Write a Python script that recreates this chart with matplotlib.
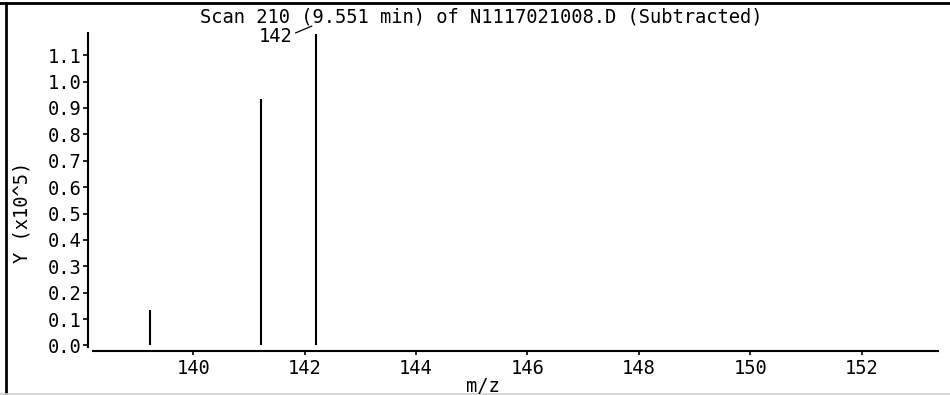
import matplotlib
matplotlib.use('Agg')
import matplotlib.pyplot as plt
from matplotlib.lines import Line2D
from matplotlib.transforms import offset_copy

# Spectrum data (m/z, intensity in units of 1e5)
mz = [139.22, 141.22, 142.2]
intensity = [0.134, 0.934, 1.18]
peak_label = '142'

x_ticks = [140, 142, 144, 146, 148, 150, 152]
y_ticks = [0.0, 0.1, 0.2, 0.3, 0.4, 0.5, 0.6, 0.7, 0.8, 0.9, 1.0, 1.1]
y_tick_labels = ['%.1f' % v for v in y_ticks]

title = 'Scan 210 (9.551 min) of N1117021008.D (Subtracted)'

W, H = 950, 395
FONT = 'DejaVu Sans Mono'
FS = 13.5


def main():
    fig = plt.figure(figsize=(W / 100, H / 100), dpi=100)
    # axes box in pixels: left 88, right 938, top 33, bottom 350.5
    ax = fig.add_axes([88 / W, 1 - 350.5 / H, (938 - 88) / W, (350.5 - 33) / H])
    ax.patch.set_alpha(0)

    ax.vlines(mz, 0, intensity, color='black', lw=1.5)

    ax.set_xlim(138.11, 153.37)
    ax.set_ylim(-0.019, 1.184)

    for s in ['top', 'right']:
        ax.spines[s].set_visible(False)
    for s in ['left', 'bottom']:
        ax.spines[s].set_linewidth(1.5)
    ax.spines['bottom'].set_bounds(138.2, 153.37)
    ax.spines['left'].set_bounds(-0.005, 1.184)

    ax.set_xticks(x_ticks)
    ax.set_xticklabels([str(t) for t in x_ticks], family=FONT, fontsize=FS)
    ax.set_yticks(y_ticks)
    ax.set_yticklabels(y_tick_labels, family=FONT, fontsize=FS)
    ax.tick_params(axis='x', length=3, width=1.2, pad=3)
    ax.tick_params(axis='y', length=3.5, width=1.2, pad=1.5)

    # label of the tallest peak with a leader line
    i = intensity.index(max(intensity))
    tr = offset_copy(ax.transData, fig=fig, x=-4, y=8, units='dots')
    ax.annotate(peak_label, xy=(mz[i], intensity[i]), xycoords=tr,
                xytext=(-36, -10), textcoords='offset pixels',
                ha='center', va='center', family=FONT, fontsize=FS,
                annotation_clip=False,
                arrowprops=dict(arrowstyle='-', color='black', lw=0.9,
                                relpos=(1, 0.6), shrinkA=0, shrinkB=0))

    fig.text(481 / W, 1 - 17 / H, title, ha='center', va='center',
             family=FONT, fontsize=FS)
    fig.text(22 / W, 1 - 212 / H, 'Y (x10^5)', rotation=90, ha='center',
             va='center', family=FONT, fontsize=FS)
    fig.text(483 / W, 1 - 386 / H, 'm/z', ha='center', va='center',
             family=FONT, fontsize=FS)

    # frame around the picture
    fig.add_artist(Line2D([0, 1], [1 - 2.5 / H, 1 - 2.5 / H], color='black', lw=2))
    fig.add_artist(Line2D([6 / W, 6 / W], [0, 1 - 2.5 / H], color='black', lw=2))
    fig.add_artist(Line2D([0, 1], [1 - 394 / H, 1 - 394 / H], color='#cfcfcf', lw=1.2))

    fig.savefig('out.png', dpi=100, facecolor='white')


if __name__ == "__main__":
    main()
